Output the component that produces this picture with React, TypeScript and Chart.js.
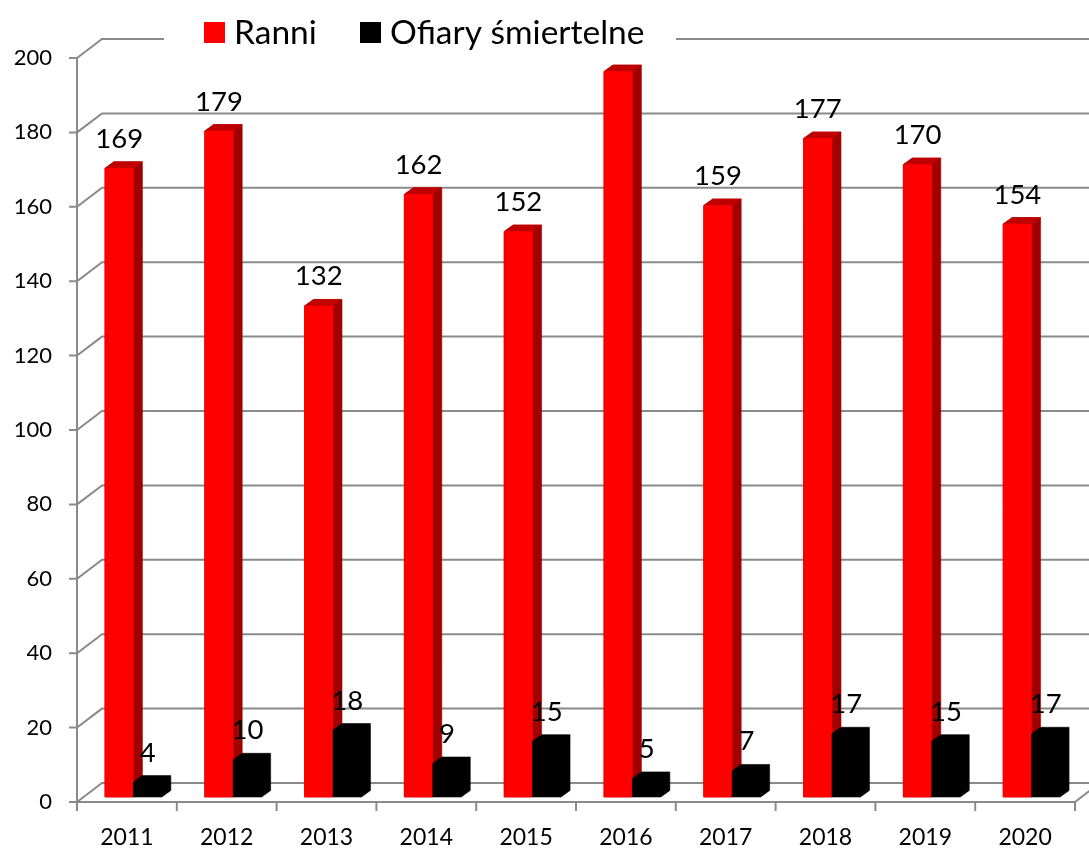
import { useEffect, useRef } from "react";
import { Chart, registerables } from "chart.js";

Chart.register(...registerables);

// ---- data ----
const years = ["2011", "2012", "2013", "2014", "2015", "2016", "2017", "2018", "2019", "2020"];
const ranni = [169, 179, 132, 162, 152, 195, 159, 177, 170, 154];
const ofiary = [4, 10, 18, 9, 15, 5, 7, 17, 15, 17];
const seriesNames = ["Ranni", "Ofiary śmiertelne"];
const ranniHiddenLabels = ["2016"];
const yMin = 0;
const yMax = 200;
const yStep = 20;

// ---- style ----
const FONT = "Lato, 'Open Sans', sans-serif";
const FRONT_DX = -6.5; // front axis relative to bar plane
const FRONT_DY = 5;
const WALL_DX = 25; // front axis -> back wall
const WALL_DY = -19;
const BAR_DX = 9; // bar depth
const BAR_DY = -6.5;
const GRID = "#8a8a8a";

const seriesStyle = [
  { front: "#ff0000", side: "#a00000", top: "#c00000" },
  { front: "#000000", side: "#000000", top: "#000000" },
];

function poly(ctx: any, pts: number[][], color: string) {
  ctx.fillStyle = color;
  ctx.strokeStyle = color;
  ctx.lineWidth = 0.6;
  ctx.beginPath();
  ctx.moveTo(pts[0][0], pts[0][1]);
  for (let k = 1; k < pts.length; k++) ctx.lineTo(pts[k][0], pts[k][1]);
  ctx.closePath();
  ctx.fill();
  ctx.stroke();
}

const excel3d = {
  id: "excel3d",
  beforeDatasetsDraw(chart: any) {
    const { ctx, chartArea: a, scales } = chart;
    const y = scales.y;
    ctx.save();
    ctx.strokeStyle = GRID;
    ctx.lineWidth = 2;
    const fx = a.left + FRONT_DX;
    for (let v = yMin; v <= yMax; v += yStep) {
      const yf = y.getPixelForValue(v) + FRONT_DY;
      ctx.beginPath();
      ctx.moveTo(fx - 8, yf);
      ctx.lineTo(fx, yf);
      ctx.lineTo(fx + WALL_DX, yf + WALL_DY);
      ctx.lineTo(chart.width + 10, yf + WALL_DY);
      ctx.stroke();
    }
    const y0 = y.getPixelForValue(yMin) + FRONT_DY;
    const yT = y.getPixelForValue(yMax) + FRONT_DY;
    const xr = a.right + FRONT_DX;
    ctx.beginPath();
    ctx.moveTo(fx, yT);
    ctx.lineTo(fx, y0);
    ctx.lineTo(xr, y0);
    ctx.lineTo(xr + WALL_DX, y0 + WALL_DY);
    ctx.stroke();
    const cw = (a.right - a.left) / years.length;
    for (let i = 0; i <= years.length; i++) {
      const xx = fx + i * cw;
      ctx.beginPath();
      ctx.moveTo(xx, y0);
      ctx.lineTo(xx, y0 + 9);
      ctx.stroke();
    }
    ctx.restore();
  },
  afterDatasetsDraw(chart: any) {
    const { ctx } = chart;
    ctx.save();
    const metas = [chart.getDatasetMeta(0), chart.getDatasetMeta(1)];
    for (let i = 0; i < years.length; i++) {
      metas.forEach((meta: any, si: number) => {
        const el = meta.data[i];
        if (!el) return;
        const { x, y, base, width } = el.getProps(["x", "y", "base", "width"], true);
        const l = x - width / 2;
        const r = x + width / 2;
        const st = seriesStyle[si];
        // whole silhouette first (avoids seams), then faces
        poly(
          ctx,
          [[l, base], [l, y], [l + BAR_DX, y + BAR_DY], [r + BAR_DX, y + BAR_DY], [r + BAR_DX, base + BAR_DY], [r, base]],
          st.side
        );
        if (st.side !== st.front || st.top !== st.front) {
          poly(ctx, [[l, y], [l + BAR_DX, y + BAR_DY], [r + BAR_DX, y + BAR_DY], [r, y]], st.top);
          poly(ctx, [[l, y], [r, y], [r, base], [l, base]], st.front);
        }
      });
    }
    // data labels
    ctx.fillStyle = "#000";
    ctx.font = `27.5px ${FONT}`;
    ctx.textAlign = "center";
    ctx.textBaseline = "alphabetic";
    const values = [ranni, ofiary];
    metas.forEach((meta: any, si: number) => {
      meta.data.forEach((el: any, i: number) => {
        if (si === 0 && ranniHiddenLabels.includes(years[i])) return;
        const { x, y } = el.getProps(["x", "y"], true);
        ctx.fillText(String(values[si][i]), x, y + BAR_DY - 14);
      });
    });
    ctx.restore();
  },
  afterDraw(chart: any) {
    const { ctx } = chart;
    ctx.save();
    // legend
    ctx.fillStyle = "#ffffff";
    ctx.fillRect(164, 14, 512, 44);
    ctx.font = `33.5px ${FONT}`;
    ctx.textBaseline = "middle";
    ctx.textAlign = "left";
    const items = [
      { x: 204, color: seriesStyle[0].front, label: seriesNames[0] },
      { x: 360, color: seriesStyle[1].front, label: seriesNames[1] },
    ];
    items.forEach((it) => {
      ctx.fillStyle = it.color;
      ctx.fillRect(it.x, 22, 21, 21);
      ctx.fillStyle = "#000";
      ctx.fillText(it.label, it.x + 30, 33);
    });
    ctx.restore();
  },
};

export default function App() {
  const ref = useRef<HTMLCanvasElement>(null);
  useEffect(() => {
    if (!ref.current) return;
    const chart = new Chart(ref.current, {
      type: "bar",
      data: {
        labels: years,
        datasets: [
          {
            label: seriesNames[0],
            data: ranni,
            backgroundColor: seriesStyle[0].front,
            borderWidth: 0,
            categoryPercentage: 0.57,
            barPercentage: 1.0,
          },
          {
            label: seriesNames[1],
            data: ofiary,
            backgroundColor: seriesStyle[1].front,
            borderWidth: 0,
            categoryPercentage: 0.57,
            barPercentage: 1.0,
          },
        ],
      },
      options: {
        responsive: false,
        maintainAspectRatio: false,
        devicePixelRatio: 1,
        animation: false,
        layout: { padding: { top: 53, right: 7.5, left: 0, bottom: 0 } },
        plugins: {
          legend: { display: false },
          tooltip: { enabled: false },
        },
        scales: {
          x: {
            grid: { display: false, drawTicks: false },
            border: { display: false },
            ticks: {
              color: "#000",
              font: { family: FONT, size: 23 },
              labelOffset: FRONT_DX,
              padding: 27,
              maxRotation: 0,
            },
            afterFit: (s: any) => {
              s.height = 51;
            },
          },
          y: {
            min: yMin,
            max: yMax,
            grid: { display: false, drawTicks: false },
            border: { display: false },
            ticks: {
              stepSize: yStep,
              color: "#000",
              font: { family: FONT, size: 22 },
              labelOffset: FRONT_DY,
              padding: 31.5,
            },
            afterFit: (s: any) => {
              s.width = 83.5;
            },
          },
        },
      },
      plugins: [excel3d],
    });
    return () => chart.destroy();
  }, []);
  return (
    <div style={{ position: "absolute", left: 0, top: 0, width: 1089, height: 848, background: "#fff" }}>
      <canvas ref={ref} width={1089} height={848} />
    </div>
  );
}
